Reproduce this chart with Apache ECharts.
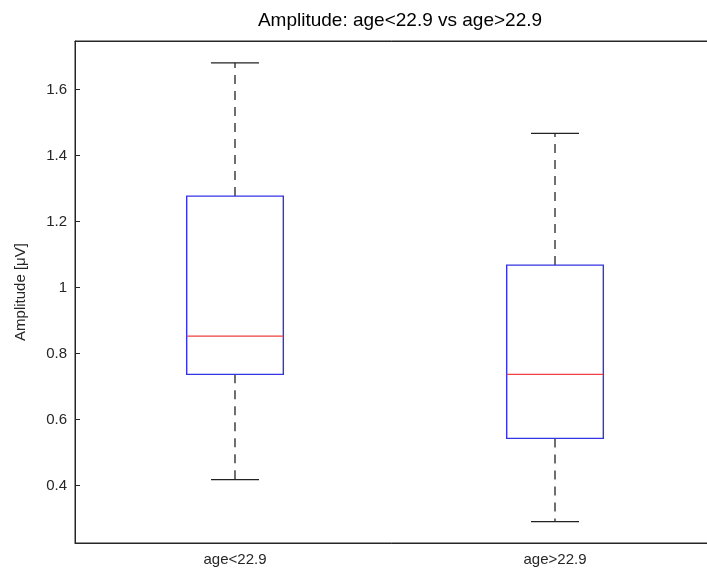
<!DOCTYPE html>
<html>
<head>
<meta charset="utf-8">
<script src="https://cdn.jsdelivr.net/npm/echarts@6/dist/echarts.min.js"></script>
<style>
  html, body { margin: 0; padding: 0; background: #fff; }
  #chart { width: 707px; height: 576px; }
</style>
</head>
<body>
<div id="chart"></div>
<script>
// groups and their box statistics
const categories = ['age<22.9', 'age>22.9']
const whiskerLow = [0.418, 0.291]
const quartile1 = [0.737, 0.543]
const medians = [0.853, 0.737]
const quartile3 = [1.277, 1.068]
const whiskerHigh = [1.681, 1.467]
const yTicks = [0.4, 0.6, 0.8, 1, 1.2, 1.4, 1.6]

const AXIS_COLOR = '#262626'
const BOX_COLOR = '#3434e6'
const MEDIAN_COLOR = '#f04040'

const chart = echarts.init(document.getElementById('chart'))

const boxData = categories.map((c, i) => [
  i, whiskerLow[i], quartile1[i], medians[i], quartile3[i], whiskerHigh[i]
])

function renderBox(params, api) {
  const idx = api.value(0)
  const band = api.size([1, 0])[0]
  const half = band * 0.151
  const capHalf = band * 0.075
  const x = api.coord([idx, api.value(3)])[0]
  const yLow = api.coord([idx, api.value(1)])[1]
  const yQ1 = api.coord([idx, api.value(2)])[1]
  const yMed = api.coord([idx, api.value(3)])[1]
  const yQ3 = api.coord([idx, api.value(4)])[1]
  const yHigh = api.coord([idx, api.value(5)])[1]
  const dash = { stroke: '#111', lineWidth: 1.2, lineDash: [9, 7] }
  const solid = { stroke: '#222', lineWidth: 1.2 }
  return {
    type: 'group',
    children: [
      { type: 'line', shape: { x1: x, y1: yQ3, x2: x, y2: yHigh }, style: dash },
      { type: 'line', shape: { x1: x, y1: yQ1, x2: x, y2: yLow }, style: dash },
      { type: 'line', shape: { x1: x - capHalf, y1: yHigh, x2: x + capHalf, y2: yHigh }, style: solid },
      { type: 'line', shape: { x1: x - capHalf, y1: yLow, x2: x + capHalf, y2: yLow }, style: solid },
      {
        type: 'rect',
        shape: { x: x - half, y: yQ3, width: half * 2, height: yQ1 - yQ3 },
        style: { fill: 'none', stroke: BOX_COLOR, lineWidth: 1.4 }
      },
      { type: 'line', shape: { x1: x - half, y1: yMed, x2: x + half, y2: yMed }, style: { stroke: MEDIAN_COLOR, lineWidth: 1.3 } }
    ]
  }
}

const yAxisBase = {
  type: 'value',
  min: 0.226,
  max: 1.747,
  splitLine: { show: false },
  axisLine: { show: true, lineStyle: { color: AXIS_COLOR, width: 1 } },
  axisTick: { show: true, inside: true, length: 5, customValues: yTicks, lineStyle: { color: AXIS_COLOR } }
}

const option = {
  animation: false,
  backgroundColor: '#fff',
  title: {
    text: 'Amplitude: age<22.9 vs age>22.9',
    left: 395,
    textAlign: 'center',
    top: 6,
    textStyle: { fontFamily: 'Liberation Sans', fontSize: 19, fontWeight: 'normal', color: '#000' }
  },
  grid: {
    left: 75,
    top: 41,
    width: 640,
    bottom: 33,
    outerBoundsMode: 'none',
    show: true,
    borderColor: AXIS_COLOR,
    borderWidth: 1
  },
  xAxis: [
    {
      type: 'category',
      data: categories,
      position: 'bottom',
      axisLine: { lineStyle: { color: AXIS_COLOR } },
      axisTick: { inside: true, length: 5, alignWithLabel: true, lineStyle: { color: AXIS_COLOR } },
      axisLabel: { color: AXIS_COLOR, fontFamily: 'Liberation Sans', fontSize: 15, margin: 9 }
    },
    {
      type: 'category',
      data: categories,
      position: 'top',
      axisLine: { lineStyle: { color: AXIS_COLOR } },
      axisTick: { inside: true, length: 5, alignWithLabel: true, lineStyle: { color: AXIS_COLOR } },
      axisLabel: { show: false }
    }
  ],
  yAxis: [
    Object.assign({}, yAxisBase, {
      position: 'left',
      name: 'Amplitude [\u03bcV]',
      nameLocation: 'middle',
      nameGap: 47,
      nameTextStyle: { color: AXIS_COLOR, fontFamily: 'Liberation Sans', fontSize: 15 },
      axisLabel: {
        color: AXIS_COLOR,
        fontFamily: 'Liberation Sans',
        fontSize: 15,
        margin: 8,
        customValues: yTicks,
        formatter: v => String(Math.round(v * 10) / 10)
      }
    }),
    Object.assign({}, yAxisBase, {
      position: 'right',
      axisLabel: { show: false }
    })
  ],
  series: [
    {
      type: 'custom',
      renderItem: renderBox,
      encode: { x: 0, y: [1, 2, 3, 4, 5] },
      data: boxData,
      z: 10
    }
  ]
}

chart.setOption(option)
</script>
</body>
</html>
